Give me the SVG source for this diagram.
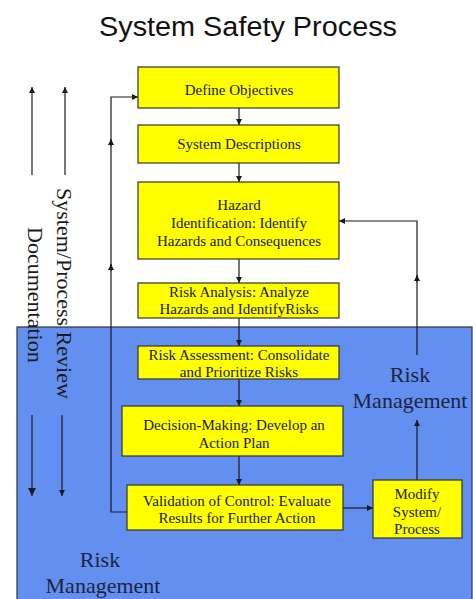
<svg xmlns="http://www.w3.org/2000/svg" width="473" height="599" viewBox="0 0 473 599">
<style>
.box{fill:#FFFF00;stroke:#333;stroke-width:1.2}
.t{font-family:"Liberation Serif","Times New Roman",serif;font-size:15px;fill:#1a1a1a;text-anchor:middle}
.rm{font-family:"Liberation Serif","Times New Roman",serif;font-size:22px;fill:#1c2440;text-anchor:middle}
.vt{font-family:"Liberation Serif","Times New Roman",serif;font-size:22px;fill:#1a1a1a}
.ln{fill:none;stroke:#1a1a1a;stroke-width:1.2}
</style>
<defs>
<marker id="ah" viewBox="0 0 6 6" refX="6" refY="3" markerWidth="6" markerHeight="6" markerUnits="userSpaceOnUse" orient="auto">
<path d="M0,0 L6,3 L0,6 z" fill="#1a1a1a"/>
</marker>
<marker id="ahb" viewBox="0 0 8 8" refX="8" refY="4" markerWidth="8" markerHeight="8" markerUnits="userSpaceOnUse" orient="auto">
<path d="M0,0 L8,4 L0,8 z" fill="#1a1a1a"/>
</marker>
</defs>
<rect width="473" height="599" fill="#fff"/>
<text x="248" y="36" font-family="Liberation Sans, Arial, sans-serif" font-size="27" fill="#111" text-anchor="middle" textLength="298" lengthAdjust="spacingAndGlyphs">System Safety Process</text>
<rect id="risk-area" x="17" y="327" width="455" height="285" fill="#6390F0" stroke="#333" stroke-width="1.2"/>
<text class="rm" x="410" y="382">Risk</text>
<text class="rm" x="410" y="408">Management</text>
<text class="rm" x="100" y="567">Risk</text>
<text class="rm" x="103" y="593">Management</text>
<g id="side-review">
<text class="vt" transform="translate(57,188) rotate(90)">System/Process Review</text>
<text class="vt" transform="translate(28,227) rotate(90)">Documentation</text>
</g>
<g id="connectors">
<path class="ln" d="M32,175 V87" marker-end="url(#ah)"/>
<path class="ln" d="M65,175 V87" marker-end="url(#ah)"/>
<path class="ln" d="M32,415 V496" stroke-width="2" marker-end="url(#ahb)"/>
<path class="ln" d="M62,415 V496" marker-end="url(#ah)"/>
<path class="ln" d="M239,108 V125" marker-end="url(#ah)"/>
<path class="ln" d="M239,163 V182" marker-end="url(#ah)"/>
<path class="ln" d="M239,259 V283" marker-end="url(#ah)"/>
<path class="ln" d="M239,318 V346" marker-end="url(#ah)"/>
<path class="ln" d="M239,379 V406" marker-end="url(#ah)"/>
<path class="ln" d="M239,456 V485" marker-end="url(#ah)"/>
<path class="ln" d="M127,512 H111 V97 H138" marker-end="url(#ah)"/>
<path class="ln" d="M111,146 V139" marker-end="url(#ah)"/>
<path class="ln" d="M111,271 V264" marker-end="url(#ah)"/>
<path class="ln" d="M343,508 H373" marker-end="url(#ah)"/>
<path class="ln" d="M417,480 V420" marker-end="url(#ah)"/>
<path class="ln" d="M417,355 V221 H339" marker-end="url(#ah)"/>
<path class="ln" d="M417,282 V275" marker-end="url(#ah)"/>
</g>
<g id="define-objectives">
<rect class="box" x="138" y="67" width="201" height="41"/>
<text class="t" x="239" y="95">Define Objectives</text>
</g>
<g id="system-descriptions">
<rect class="box" x="138" y="125" width="201" height="38"/>
<text class="t" x="239" y="149">System Descriptions</text>
</g>
<g id="hazard-identification">
<rect class="box" x="138" y="182" width="201" height="77"/>
<text class="t" x="239" y="210">Hazard</text>
<text class="t" x="239" y="228">Identification: Identify</text>
<text class="t" x="239" y="246">Hazards and Consequences</text>
</g>
<g id="risk-analysis">
<rect class="box" x="138" y="283" width="201" height="35"/>
<text class="t" x="239" y="297">Risk Analysis: Analyze</text>
<text class="t" x="239" y="314">Hazards and IdentifyRisks</text>
</g>
<g id="risk-assessment">
<rect class="box" x="138" y="346" width="201" height="33"/>
<text class="t" x="239" y="360">Risk Assessment: Consolidate</text>
<text class="t" x="239" y="377">and Prioritize Risks</text>
</g>
<g id="decision-making">
<rect class="box" x="122" y="406" width="221" height="50"/>
<text class="t" x="234" y="430">Decision-Making: Develop an</text>
<text class="t" x="234" y="448">Action Plan</text>
</g>
<g id="validation">
<rect class="box" x="127" y="485" width="216" height="45"/>
<text class="t" x="237" y="506">Validation of Control: Evaluate</text>
<text class="t" x="237" y="523">Results for Further Action</text>
</g>
<g id="modify">
<rect class="box" x="373" y="480" width="89" height="58"/>
<text class="t" x="417" y="499">Modify</text>
<text class="t" x="417" y="517">System/</text>
<text class="t" x="417" y="534">Process</text>
</g>
</svg>
